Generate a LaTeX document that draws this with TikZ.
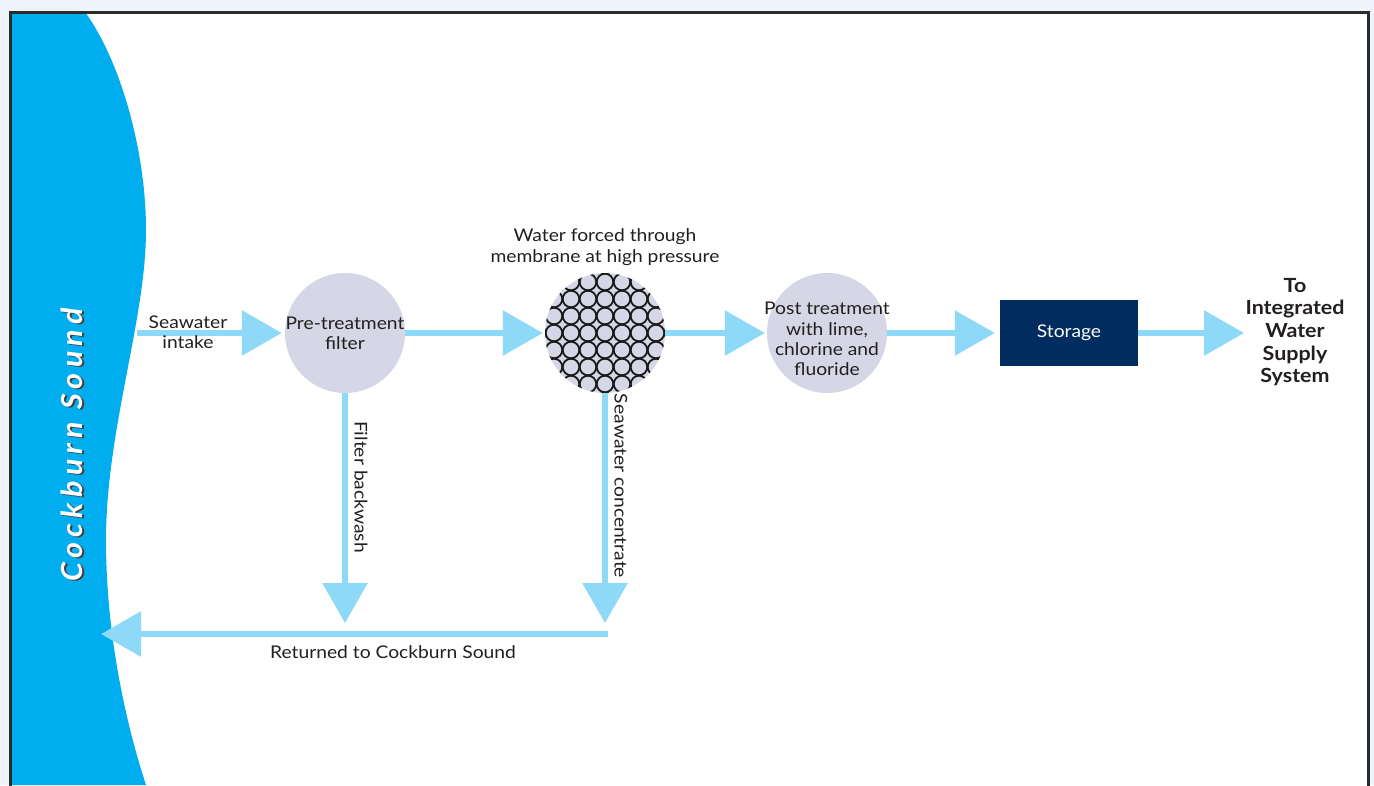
\documentclass[tikz,border=0pt]{standalone}
\usepackage{fontspec}
\setmainfont{Lato}[FakeStretch=1.1]
\newfontfamily\seafont[LetterSpace=18,FakeStretch=1.05]{Lato}
\usetikzlibrary{arrows.meta,calc}
\definecolor{sea}{HTML}{00AEEF}
\definecolor{flow}{HTML}{8ED8F8}
\definecolor{disccol}{HTML}{D5D7E6}
\definecolor{navy}{HTML}{002C5F}
\definecolor{ink}{HTML}{231F20}
\definecolor{outerbg}{HTML}{F0F5FD}
\definecolor{framecol}{HTML}{2B2B2B}
\begin{document}
\begin{tikzpicture}[x=1pt,y=-1pt,
  flowline/.style={draw=flow, line width=6pt, -{Triangle[length=40pt,width=44pt,flow]}},
  disc/.style={circle, fill=disccol, minimum size=120pt, inner sep=0pt},
  lbl/.style={text=ink, font=\fontsize{17.5}{20.3}\selectfont, align=center, inner sep=0pt},
  vlbl/.style={text=ink, font=\fontsize{17.5}{20.3}\selectfont, inner sep=0pt, rotate=-90},
  boldlbl/.style={text=ink, font=\fontsize{19.5}{22.7}\selectfont\bfseries, align=center, inner sep=0pt},
  storebox/.style={rectangle, fill=navy, minimum width=138pt, minimum height=66pt, text=white, font=\fontsize{17.5}{20}\selectfont}
]
\useasboundingbox (0,0) rectangle (1374,785);
\clip (0,0) rectangle (1374,785);
\fill[outerbg] (0,0) rectangle (1374,785);
\fill[white] (10,12) rectangle (1368,800);

% sea
\fill[sea] (11,12) -- (85,12) .. controls (120,60) and (146,150) .. (146,230)
  .. controls (146,320) and (106,430) .. (106,540)
  .. controls (106,640) and (128,730) .. (146,785) -- (11,785) -- cycle;
\node[rotate=90, text=black!75, font=\fontsize{29}{30}\seafont\bfseries\itshape] (seashadow) at (73.8,446) {Cockburn Sound};
\node[rotate=90, text=white, font=\fontsize{29}{30}\seafont\bfseries\itshape] (seaname) at (72,445) {Cockburn Sound};

% frame
\draw[framecol, line width=3pt] (10,800) -- (10,12) -- (1368,12) -- (1368,800);

% nodes
\node[disc] (pre) at (345,333) {};
\node[lbl] (pretext) at (pre.center) {Pre-treatment\\filter};
\node[disc] (mem) at (605,333) {};
\begin{scope}
  \clip (mem.center) circle (60);
  \foreach \i in {-4,...,4} {
    \foreach \j in {-4,...,4} {
      \draw[black!90, line width=1.8pt] ($(mem.center)+(17*\i,17*\j)$) circle (8.3);
    }
  }
\end{scope}
\node[disc] (post) at (827,333) {};
\node[lbl] (posttext) at ($(post.center)+(0,6)$) {Post treatment\\with lime,\\chlorine and\\fluoride};
\node[storebox] (store) at (1069,333) {Storage};
\node[boldlbl] (dest) at (1295,332) {To\\Integrated\\Water\\Supply\\System};

\coordinate (intake) at (137,333);
\coordinate (bwend) at (345,623);
\coordinate (scend) at (605,623);
\coordinate (retstart) at (608,634);
\coordinate (retend) at (101,634);
\coordinate (destin) at (1244,333);

% connectors
\draw[flowline, shorten >=3pt] (intake) -- (pre);
\draw[flowline, shorten >=2pt] (pre) -- (mem);
\draw[flowline, shorten >=2pt] (mem) -- (post);
\draw[flowline, shorten >=5pt] (post) -- (store);
\draw[flowline] (store) -- (destin);
\draw[flowline] (pre) -- (bwend);
\draw[flowline] (mem) -- (scend);
\draw[flowline] (retstart) -- (retend);

% labels
\node[lbl] (intakelbl) at (188,332) {Seawater\\intake};
\node[lbl] (memlbl) at (605,247) {Water forced through\\membrane at high pressure};
\node[vlbl] (bwlbl) at (361,487) {Filter backwash};
\node[vlbl] (sclbl) at (621,486) {Seawater concentrate};
\node[lbl] (retlbl) at (393,652) {Returned to Cockburn Sound};
\end{tikzpicture}
\end{document}
